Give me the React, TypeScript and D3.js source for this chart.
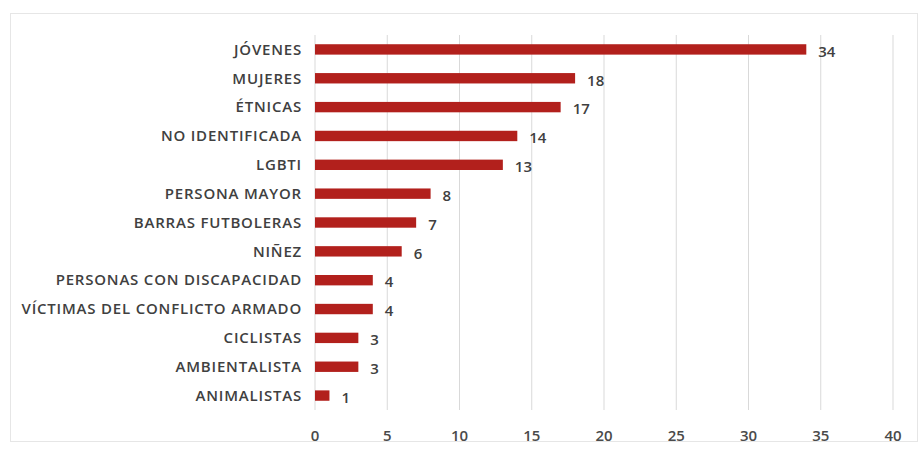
import React, { useEffect, useRef } from "react";
import * as d3 from "d3";

const categories = [
  "JÓVENES",
  "MUJERES",
  "ÉTNICAS",
  "NO IDENTIFICADA",
  "LGBTI",
  "PERSONA MAYOR",
  "BARRAS FUTBOLERAS",
  "NIÑEZ",
  "PERSONAS CON DISCAPACIDAD",
  "VÍCTIMAS DEL CONFLICTO ARMADO",
  "CICLISTAS",
  "AMBIENTALISTA",
  "ANIMALISTAS",
];
const values = [34, 18, 17, 14, 13, 8, 7, 6, 4, 4, 3, 3, 1];
const xTicks = [0, 5, 10, 15, 20, 25, 30, 35, 40];

const W = 922;
const H = 451;
const FONT = "'Open Sans', Lato, sans-serif";

export default function App() {
  const ref = useRef<SVGSVGElement>(null);

  useEffect(() => {
    const svg = d3.select(ref.current);
    svg.selectAll("*").remove();

    const x = d3.scaleLinear().domain([0, 40]).range([315, 893]);
    const y = d3
      .scaleBand<string>()
      .domain(categories)
      .range([35, 410])
      .paddingInner(0.64)
      .paddingOuter(0.32);

    svg
      .append("rect")
      .attr("x", 0)
      .attr("y", 0)
      .attr("width", W)
      .attr("height", H)
      .attr("fill", "#ffffff");

    svg
      .append("rect")
      .attr("x", 10.5)
      .attr("y", 13.5)
      .attr("width", 907)
      .attr("height", 428)
      .attr("fill", "none")
      .attr("stroke", "#e6e6e6")
      .attr("stroke-width", 1);

    // gridlines
    svg
      .append("g")
      .selectAll("line")
      .data(xTicks)
      .join("line")
      .attr("x1", (d) => x(d))
      .attr("x2", (d) => x(d))
      .attr("y1", 35)
      .attr("y2", 410)
      .attr("stroke", "#d9d9d9")
      .attr("stroke-width", 1);

    // tick labels
    svg
      .append("g")
      .selectAll("text")
      .data(xTicks)
      .join("text")
      .attr("x", (d) => x(d))
      .attr("y", 441)
      .attr("text-anchor", "middle")
      .attr("font-family", FONT)
      .attr("font-size", 15)
      .attr("font-weight", 600)
      .attr("fill", "#4a4a4a")
      .text((d) => String(d));

    // bars
    svg
      .append("g")
      .selectAll("rect")
      .data(categories)
      .join("rect")
      .attr("x", x(0))
      .attr("y", (d) => y(d)!)
      .attr("width", (d, i) => x(values[i]) - x(0))
      .attr("height", y.bandwidth())
      .attr("fill", "#b2201c");

    // category labels
    svg
      .append("g")
      .selectAll("text")
      .data(categories)
      .join("text")
      .attr("x", 302)
      .attr("y", (d) => y(d)! + y.bandwidth() / 2)
      .attr("dy", "0.35em")
      .attr("text-anchor", "end")
      .attr("font-family", FONT)
      .attr("font-size", 15)
      .attr("font-weight", 600)
      .attr("letter-spacing", "0.8")
      .attr("fill", "#404040")
      .text((d) => d);

    // value labels
    svg
      .append("g")
      .selectAll("text")
      .data(categories)
      .join("text")
      .attr("x", (d, i) => x(values[i]) + 12)
      .attr("y", (d) => y(d)! + y.bandwidth() / 2 + 2)
      .attr("dy", "0.35em")
      .attr("font-family", FONT)
      .attr("font-size", 15)
      .attr("font-weight", 600)
      .attr("fill", "#404040")
      .text((d, i) => String(values[i]));
  }, []);

  return (
    <svg
      ref={ref}
      width={W}
      height={H}
      style={{ position: "absolute", left: 0, top: 0, display: "block" }}
    />
  );
}
